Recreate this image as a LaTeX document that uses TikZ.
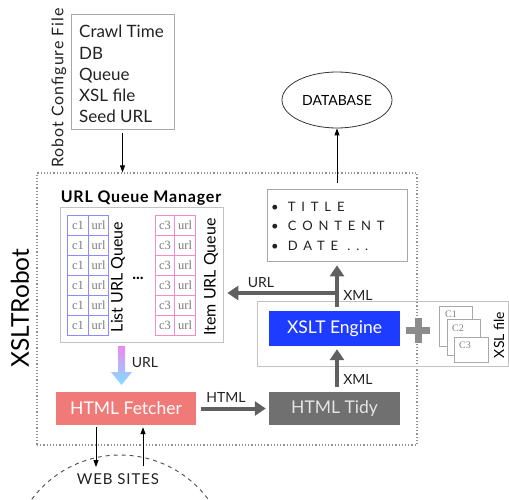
\documentclass[tikz,border=0pt]{standalone}
\usepackage{fontspec}
\setmainfont{Lato}
\newfontfamily\cellfont{Liberation Serif}
\newfontfamily\spacedfont[LetterSpace=45]{Lato}
\newfontfamily\wideboldfont[LetterSpace=5]{Lato}
\newfontfamily\lightspaced[LetterSpace=6]{Lato}
\usetikzlibrary{arrows.meta,shapes.geometric}
\definecolor{fetchc}{HTML}{F07A78}
\definecolor{tidyc}{HTML}{707070}
\definecolor{xsltc}{HTML}{1E3CFF}
\definecolor{arrc}{HTML}{606060}
\definecolor{bluet}{HTML}{8C8CFF}
\definecolor{pinkt}{HTML}{F58CC4}
\definecolor{framec}{HTML}{A8A8A8}
\definecolor{dotc}{HTML}{909090}
\definecolor{gradtop}{HTML}{EE88EE}
\definecolor{gradbot}{HTML}{80E0FF}
\definecolor{plusc}{HTML}{8C8C8C}
\definecolor{inkc}{HTML}{222222}
\definecolor{cellt}{HTML}{7A7A7A}
\newcommand\fsMain{\fontsize{17.5}{21}\selectfont}
\newcommand\fsCfg{\fontsize{17}{21.3}\selectfont}
\newcommand\fsLab{\fontsize{14}{16}\selectfont}
\newcommand\fsBigLab{\fontsize{16}{18}\selectfont}
\newcommand\fsRobot{\fontsize{24.5}{28}\selectfont}
\newcommand\fsCell{\fontsize{12.5}{13}\selectfont}
\begin{document}
\begin{tikzpicture}[x=1pt,y=-1pt,
  plainbox/.style={rectangle, draw=framec, line width=0.7pt, inner sep=0pt},
  fillbox/.style={rectangle, inner sep=0pt, font=\fsMain},
  lbl/.style={font=\fsLab, text=inkc, inner sep=0pt},
  tarr/.style={-{Triangle[length=7pt,width=5pt]}, line width=0.8pt, draw=black},
  karr/.style={-{Triangle[length=11pt,width=14pt]}, line width=4pt, draw=arrc},
  bcell/.style={rectangle, draw=bluet, line width=1.1pt, inner sep=0pt, minimum height=20pt, anchor=north west, font=\cellfont\fsCell, text=cellt},
  pcell/.style={rectangle, draw=pinkt, line width=1.1pt, inner sep=0pt, minimum height=20pt, anchor=north west, font=\cellfont\fsCell, text=cellt},
  card/.style={rectangle, draw=framec, fill=white, line width=0.7pt, inner sep=0pt, anchor=north west},
  cardlbl/.style={font=\cellfont\fontsize{10}{11}\selectfont, text=gray, inner sep=0pt}
]
\useasboundingbox (0,0) rectangle (509,500);

% configure file
\node[plainbox, minimum width=103pt, minimum height=115pt] (cfg) at (122.5,71.5) {};
\node[font=\fsCfg, text=inkc, align=left, anchor=north west, inner sep=0pt] (cfgtext) at (79,25)
  {Crawl Time\\DB\\Queue\\XSL file\\Seed URL};
\node[rotate=90, font=\lightspaced\fsBigLab, text=inkc, inner sep=0pt] (cfglabel) at (59,88) {Robot Configure File};

% XSLTRobot frame
\node[rectangle, draw=dotc, dotted, line width=1.2pt, inner sep=0pt, minimum width=380pt, minimum height=272pt] (robot) at (227,309) {};
\node[rotate=90, font=\fsRobot, text=black, inner sep=0pt] (robotlabel) at (20,308) {XSLTRobot};
\draw[tarr, shorten <=4pt] (cfg.south) -- (cfg.south |- robot.north);

% URL Queue Manager
\node[font=\wideboldfont\bfseries\fontsize{16}{17}\selectfont, text=black, inner sep=0pt] (qmlabel) at (141,198) {URL Queue Manager};
\node[plainbox, draw=framec!70, minimum width=163pt, minimum height=135pt] (qm) at (141.5,274.5) {};
\foreach \r in {0,...,5} {
  \node[bcell, minimum width=21pt] (bl\r) at (67,215+20*\r) {c1};
  \node[bcell, minimum width=20pt] (br\r) at (88,215+20*\r) {url};
  \node[pcell, minimum width=19pt] (pl\r) at (155,215+20*\r) {c3};
  \node[pcell, minimum width=21pt] (pr\r) at (174,215+20*\r) {url};
}
\node[rotate=90, font=\fsBigLab, text=black, inner sep=0pt] (listq) at (118,277) {List URL Queue};
\node[rotate=90, font=\fsBigLab, text=black, inner sep=0pt] (itemq) at (211,277) {Item URL Queue};
\node[font=\bfseries\fontsize{16}{16}\selectfont, inner sep=0pt] (dots) at (138,278) {...};

% gradient URL arrow
\shade[top color=gradtop, bottom color=gradbot]
  (118,346) -- (125,346) -- (125,372) -- (132,372) -- (121.5,385) -- (111,372) -- (118,372) -- cycle;
\coordinate (gradtip) at (121.5,385);
\node[lbl] (urlA) at (145,363) {URL};

% bottom row
\node[fillbox, fill=fetchc, text=white, minimum width=140pt, minimum height=33pt] (fetch) at (126,408.5) {HTML Fetcher};
\node[fillbox, fill=tidyc, text=white!90!black, minimum width=131pt, minimum height=33pt] (tidy) at (334.5,408.5) {HTML Tidy};
\draw[karr, shorten <=5pt, shorten >=3pt] (fetch.east) -- (tidy.west);
\node[lbl] (htmllbl) at (226,397) {HTML};

% XSLT engine region
\node[rectangle, draw=framec!70, line width=0.6pt, inner sep=0pt, minimum width=251pt, minimum height=65pt] (xframe) at (383,334) {};
\node[fillbox, fill=xsltc, text=white, minimum width=131pt, minimum height=35pt] (xslt) at (334.5,328.5) {XSLT Engine};
\coordinate (junc) at (337,293);
\draw[karr, shorten <=5pt, shorten >=3pt] (tidy.north -| junc) -- (xslt.south -| junc);
\node[lbl] (xml1) at (358,379) {XML};

% title box
\node[plainbox, minimum width=140pt, minimum height=72pt] (title) at (337,225) {};
\node[font=\spacedfont\fontsize{13}{19.5}\selectfont, text=inkc, align=left, anchor=west, inner sep=0pt] (titletext) at (271,226)
  {\textbullet\ TITLE\\\textbullet\ CONTENT\\\textbullet\ DATE ...};
\draw[karr, shorten <=4pt, shorten >=4pt] (xslt.north -| junc) -- (title.south -| junc);
\node[lbl] (xml2) at (358,295) {XML};
\draw[karr, shorten >=4pt] (junc) -- (junc -| qm.east);
\node[lbl] (urlB) at (261,283) {URL};

% database
\node[ellipse, draw=black!80, line width=0.8pt, minimum width=110pt, minimum height=56pt, inner sep=0pt, font=\fsLab] (db) at (337,100) {DATABASE};
\draw[tarr, shorten <=6pt] (title.north -| db.south) -- (db.south);

% plus and XSL cards
\draw[line width=7pt, draw=plusc] (406,330) -- (430,330) (418,318) -- (418,343);
\node[card, minimum width=33pt, minimum height=40pt] (c1) at (439,306) {};
\node[cardlbl] (c1l) at (451,314) {C1};
\node[card, minimum width=33pt, minimum height=36pt] (c2) at (447,319) {};
\node[cardlbl] (c2l) at (458,328) {C2};
\node[card, minimum width=34pt, minimum height=25pt] (c3) at (454,337) {};
\node[cardlbl] (c3l) at (465,345) {C3};
\node[rotate=90, font=\fsLab, text=black, inner sep=0pt] (xslfile) at (499,335) {XSL file};

% web sites
\draw[dashed, dash pattern=on 4pt off 4pt, line width=0.9pt, draw=black!70] (120,565) circle[radius=110];
\node[font=\lightspaced\fontsize{15}{17}\selectfont, text=inkc, inner sep=0pt] (web) at (118,479) {WEB SITES};
\coordinate (wdown) at (96,467);
\coordinate (wup) at (143,466);
\draw[tarr, shorten <=2pt] (fetch.south -| wdown) -- (wdown);
\draw[tarr, shorten >=2pt] (wup) -- (fetch.south -| wup);
\end{tikzpicture}
\end{document}
